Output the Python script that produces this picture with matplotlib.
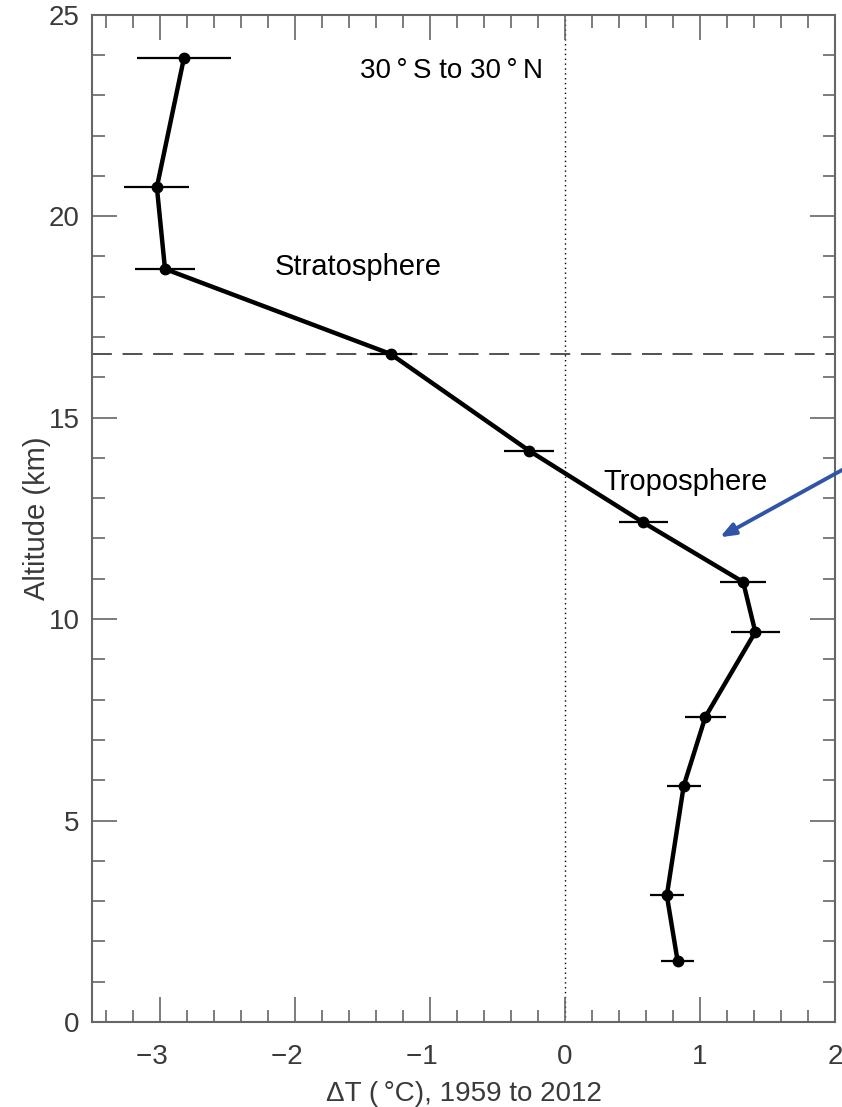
import matplotlib.pyplot as plt
import numpy as np
from matplotlib.ticker import MultipleLocator

plt.rcParams['font.family'] = ['Liberation Sans', 'DejaVu Sans']

# Cambio de temperatura (30S-30N), 1959 a 2012
delta_t = [-2.82, -3.02, -2.96, -1.29, -0.265, 0.58, 1.32, 1.41, 1.04, 0.88, 0.755, 0.835]
altitud = [23.92, 20.72, 18.69, 16.58, 14.18, 12.40, 10.92, 9.68, 7.57, 5.86, 3.14, 1.51]
error_t = [0.347, 0.24, 0.225, 0.155, 0.185, 0.18, 0.17, 0.18, 0.15, 0.125, 0.125, 0.12]
tropopausa = 16.58
ticks_x = [-3, -2, -1, 0, 1, 2]

gris = '#666666'
texto_gris = '#3a3a3a'

fig = plt.figure(figsize=(8.42, 11.07), dpi=100)
ax = fig.add_axes([0.1093, 0.0768, 0.8824, 0.9099])

# lineas de referencia
ax.axvline(0, color='black', lw=1.0, ls=(0, (1, 2.5)), zorder=1)
ax.axhline(tropopausa, color='#222222', lw=1.1, ls=(0, (13, 7)), zorder=1)

# barras de error y perfil
ax.errorbar(delta_t, altitud, xerr=error_t, fmt='none', ecolor='black',
            elinewidth=1.6, capsize=0, zorder=2)
ax.plot(delta_t, altitud, color='black', lw=3.2, marker='o', markersize=7.5, zorder=3)

ax.set_xlim(-3.5, 2)
ax.set_ylim(0, 25)
ax.set_xticks(ticks_x)
# el signo menos queda a la izquierda del digito centrado
ax.set_xticklabels([('\u2212' + str(-v) + '\u2007') if v < 0 else str(v) for v in ticks_x])
ax.xaxis.set_minor_locator(MultipleLocator(0.2))
ax.yaxis.set_major_locator(MultipleLocator(5))
ax.yaxis.set_minor_locator(MultipleLocator(1))

ax.tick_params(which='both', direction='in', top=True, right=True, color=gris, width=1.2)
ax.tick_params(which='major', length=18, labelsize=20, labelcolor=texto_gris)
ax.tick_params(axis='x', which='major', pad=16)
ax.tick_params(axis='y', which='major', pad=9)
ax.tick_params(which='minor', length=9)
for s in ax.spines.values():
    s.set_color(gris)
    s.set_linewidth(1.5)

ax.set_xlabel('\u0394T (\u2009\u00b0C), 1959 to 2012', fontsize=20, color=texto_gris, labelpad=8)
ax.set_ylabel('Altitude (km)', fontsize=21, color=texto_gris, labelpad=-2)

# anotaciones
ax.text(-0.84, 23.6, '30\u2009\u00b0\u2009S to 30\u2009\u00b0\u2009N', fontsize=20,
        ha='center', va='center')
ax.text(-1.53, 18.75, 'Stratosphere', fontsize=21, ha='center', va='center')
ax.text(0.89, 13.4, 'Troposphere', fontsize=21, ha='center', va='center')

ax.annotate('', xy=(1.148, 12.03), xytext=(2.35, 14.25), annotation_clip=False,
            arrowprops=dict(arrowstyle='-|>,head_length=0.9,head_width=0.35',
                            color='#2f54a8', lw=2.8, shrinkA=0, shrinkB=0))

fig.savefig('out.png', dpi=100)
